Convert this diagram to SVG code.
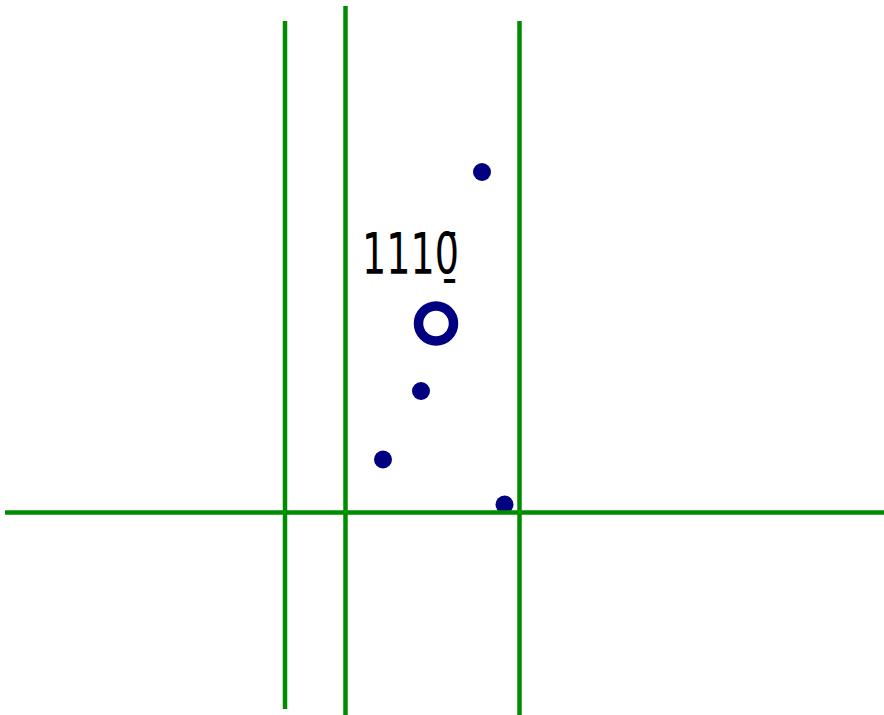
<svg xmlns="http://www.w3.org/2000/svg" width="884" height="715" viewBox="0 0 884 715">
<style>
.dot{fill:#000080}
.ring{fill:none;stroke:#000080;stroke-width:9.5}
.ln{stroke:#008c00;stroke-width:4.5;fill:none}
.lbl{font-family:"DejaVu Sans","Liberation Sans",sans-serif;font-size:57px;fill:#000}
</style>
<rect width="884" height="715" fill="#fff"/>
<g id="points">
<circle class="dot" cx="482" cy="172" r="9"/>
<circle class="dot" cx="421" cy="391" r="9"/>
<circle class="dot" cx="383" cy="459.5" r="9"/>
<circle class="dot" cx="504.5" cy="504.5" r="9"/>
<circle class="ring" cx="436" cy="323.5" r="17.5"/>
</g>
<g id="lines">
<line class="ln" x1="285" y1="21" x2="285" y2="709"/>
<line class="ln" x1="345.5" y1="6" x2="345.5" y2="715"/>
<line class="ln" x1="519.5" y1="21" x2="519.5" y2="715"/>
<line class="ln" x1="5" y1="512.5" x2="884" y2="512.5"/>
</g>
<g id="label">
<text class="lbl" x="362" y="274" textLength="97" lengthAdjust="spacingAndGlyphs">1110̱̄</text>
</g>
</svg>
